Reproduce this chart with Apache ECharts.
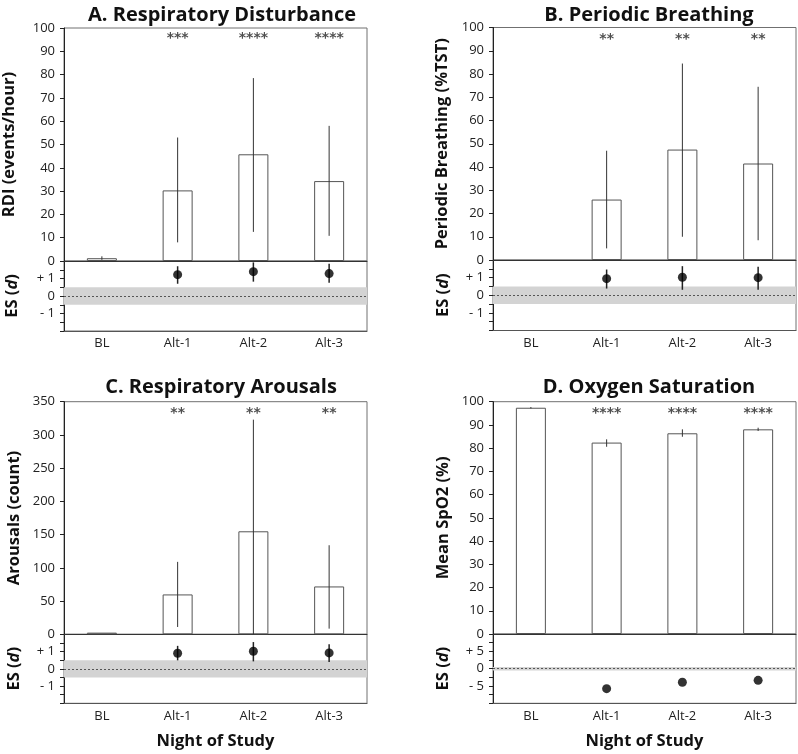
<!DOCTYPE html>
<html>
<head>
<meta charset="utf-8">
<script src="https://cdn.jsdelivr.net/npm/echarts@6/dist/echarts.min.js"></script>
<style>
html,body{margin:0;padding:0;background:#fff;}
#chart{width:798px;height:754px;}
</style>
</head>
<body>
<div id="chart"></div>
<script>
// ---- data ----
const categories = ['BL', 'Alt-1', 'Alt-2', 'Alt-3'];

// A. Respiratory Disturbance
const rdiMean   = [1.2, 30.3, 45.8, 34.3];
const rdiLow    = [0.5, 8, 12.5, 10.8];
const rdiHigh   = [2.0, 53, 78.5, 58];
const rdiES     = [null, 1.22, 1.39, 1.28];
const rdiESLow  = [null, 0.70, 0.82, 0.76];
const rdiESHigh = [null, 1.70, 1.92, 1.85];
const rdiStars  = ['', '***', '****', '****'];

// B. Periodic Breathing
const pbMean   = [null, 26, 47.5, 41.5];
const pbLow    = [null, 5, 10, 8.5];
const pbHigh   = [null, 47, 84.5, 74.5];
const pbES     = [null, 0.94, 1.02, 1.00];
const pbESLow  = [null, 0.38, 0.31, 0.31];
const pbESHigh = [null, 1.46, 1.65, 1.62];
const pbStars  = ['', '**', '**', '**'];

// C. Respiratory Arousals
const arMean   = [2.5, 60, 155, 72];
const arLow    = [null, 11, 0, 8.5];
const arHigh   = [null, 109, 323, 134];
const arES     = [null, 0.90, 1.02, 0.92];
const arESLow  = [null, 0.49, 0.43, 0.39];
const arESHigh = [null, 1.33, 1.55, 1.43];
const arStars  = ['', '**', '**', '**'];

// D. Oxygen Saturation
const spMean  = [97.4, 82.4, 86.4, 88.1];
const spLow   = [97.1, 80.6, 84.9, 87.4];
const spHigh  = [97.7, 83.8, 88.1, 88.8];
const spES    = [null, -5.77, -3.94, -3.37];
const spStars = ['', '****', '****', '****'];

// y-axis tick settings
const rdiTicks = {min: 0, max: 100, interval: 10};
const pbTicks  = {min: 0, max: 100, interval: 10};
const arTicks  = {min: 0, max: 350, interval: 50};
const spTicks  = {min: 0, max: 100, interval: 10};
const esTicksSmall = {min: -2, max: 2, interval: 0.5, labels: {'1': '+ 1', '0': '0', '-1': '- 1'}};
const esTicksLarge = {min: -10, max: 10, interval: 2.5, labels: {'5': '+ 5', '0': '0', '-5': '- 5'}};

// ---- layout / styles ----
const FONT = 'Open Sans';
const panels = [
  {title: 'A. Respiratory Disturbance', yName: 'RDI (events/hour)', mean: rdiMean, low: rdiLow, high: rdiHigh,
   es: rdiES, esLow: rdiESLow, esHigh: rdiESHigh, stars: rdiStars, starY: 95.5, ticks: rdiTicks, esTicks: esTicksSmall,
   left: 64, top: 28, h1: 233, h2: 70, nameGap: 46, esGap: 43, titleX: 217, titleTop: 0, xName: false},
  {title: 'B. Periodic Breathing', yName: 'Periodic Breathing (%TST)', mean: pbMean, low: pbLow, high: pbHigh,
   es: pbES, esLow: pbESLow, esHigh: pbESHigh, stars: pbStars, starY: 95, ticks: pbTicks, esTicks: esTicksSmall,
   left: 493, top: 27.5, h1: 232.5, h2: 70.5, nameGap: 42, esGap: 41, titleX: 644, titleTop: 0, xName: false},
  {title: 'C. Respiratory Arousals', yName: 'Arousals (count)', mean: arMean, low: arLow, high: arHigh,
   es: arES, esLow: arESLow, esHigh: arESHigh, stars: arStars, starY: 333, ticks: arTicks, esTicks: esTicksSmall,
   left: 64, top: 401.7, h1: 232.6, h2: 69, nameGap: 41.5, esGap: 41.5, titleX: 216, titleTop: 372, xName: true},
  {title: 'D. Oxygen Saturation', yName: 'Mean SpO2 (%)', mean: spMean, low: spLow, high: spHigh,
   es: spES, esLow: null, esHigh: null, stars: spStars, starY: 95, ticks: spTicks, esTicks: esTicksLarge,
   left: 493, top: 401.7, h1: 232.3, h2: 69.3, nameGap: 41, esGap: 41, titleX: 644, titleTop: 372, xName: true}
];
const PW = 303;

function errRender(width, color) {
  return function (params, api) {
    const x = api.value(0), lo = api.value(1), hi = api.value(2);
    const p1 = api.coord([x, lo]);
    const p2 = api.coord([x, hi]);
    return {type: 'line', shape: {x1: p1[0], y1: p1[1], x2: p2[0], y2: p2[1]},
            style: {stroke: color, lineWidth: width}};
  };
}

const option = {
  animation: false,
  backgroundColor: '#fff',
  textStyle: {fontFamily: FONT},
  title: [], grid: [], xAxis: [], yAxis: [], series: []
};

panels.forEach((p, k) => {
  const gU = 2 * k, gL = 2 * k + 1;
  option.title.push({
    text: p.title, left: p.titleX, top: p.titleTop, textAlign: 'center',
    textStyle: {fontFamily: FONT, fontSize: 20, fontWeight: 'bold', color: '#111'}
  });
  option.grid.push({left: p.left, top: p.top, width: PW, height: p.h1, show: true,
    borderColor: '#707070', borderWidth: 1, backgroundColor: 'transparent'});
  option.grid.push({left: p.left, top: p.top + p.h1, width: PW, height: p.h2, show: true,
    borderColor: '#707070', borderWidth: 1, backgroundColor: 'transparent'});

  option.xAxis.push({type: 'category', gridIndex: gU, data: categories,
    axisLine: {show: true, onZero: false, lineStyle: {color: '#333', width: 1}},
    axisTick: {show: false}, axisLabel: {show: false}, splitLine: {show: false}});
  const xl = {type: 'category', gridIndex: gL, data: categories,
    axisLine: {show: true, onZero: false, lineStyle: {color: '#555', width: 1}},
    axisTick: {show: false},
    axisLabel: {show: true, fontFamily: FONT, fontSize: 13, color: '#222', margin: 6},
    splitLine: {show: false}};
  if (p.xName) {
    xl.name = 'Night of Study'; xl.nameLocation = 'middle'; xl.nameGap = 29;
    xl.nameTextStyle = {fontFamily: FONT, fontSize: 16.5, fontWeight: 'bold', color: '#111'};
  }
  option.xAxis.push(xl);

  option.yAxis.push({type: 'value', gridIndex: gU, min: p.ticks.min, max: p.ticks.max, interval: p.ticks.interval,
    name: p.yName, nameLocation: 'middle', nameGap: p.nameGap,
    nameTextStyle: {fontFamily: FONT, fontSize: 16.5, fontWeight: 'bold', color: '#111'},
    axisLine: {show: true, lineStyle: {color: '#222', width: 1}},
    axisTick: {show: true, inside: false, length: 4, lineStyle: {color: '#222'}},
    axisLabel: {fontFamily: FONT, fontSize: 13, color: '#222', margin: 9},
    splitLine: {show: false}});
  const lab = p.esTicks.labels;
  option.yAxis.push({type: 'value', gridIndex: gL, min: p.esTicks.min, max: p.esTicks.max, interval: p.esTicks.interval,
    name: '{a|ES (}{b|d}{a|)}', nameLocation: 'middle', nameGap: p.esGap,
    nameTextStyle: {rich: {
      a: {fontFamily: FONT, fontSize: 16.5, fontWeight: 'bold', color: '#111'},
      b: {fontFamily: FONT, fontSize: 16.5, fontWeight: 'bold', fontStyle: 'italic', color: '#111'}}},
    axisLine: {show: true, lineStyle: {color: '#222', width: 1}},
    axisTick: {show: true, inside: false, length: 4, lineStyle: {color: '#222'}},
    axisLabel: {fontFamily: FONT, fontSize: 13, color: '#222', margin: 9,
      formatter: v => { const key = String(Math.round(v * 100) / 100); return lab[key] !== undefined ? lab[key] : ''; }},
    splitLine: {show: false}});

  // bars
  option.series.push({type: 'bar', xAxisIndex: gU, yAxisIndex: gU, data: p.mean, barWidth: 30,
    itemStyle: {color: '#fff', borderColor: '#555', borderWidth: 1}, z: 2});
  // error bars (upper)
  option.series.push({type: 'custom', xAxisIndex: gU, yAxisIndex: gU, z: 3,
    data: categories.map((c, i) => [i, p.low[i], p.high[i]]).filter(d => d[1] != null),
    renderItem: errRender(1, '#333')});
  // stars
  option.series.push({type: 'scatter', xAxisIndex: gU, yAxisIndex: gU, symbolSize: 0, z: 4,
    data: categories.map((c, i) => [i, p.starY, p.stars[i]]).filter(d => d[2] !== ''),
    label: {show: true, position: 'inside', formatter: d => d.data[2],
      fontFamily: 'DejaVu Sans', fontSize: 14, color: '#222', fontWeight: 'bold'}});
  // ES dots with band and zero line
  option.series.push({type: 'scatter', xAxisIndex: gL, yAxisIndex: gL, symbol: 'circle', symbolSize: 9, z: 5,
    data: categories.map((c, i) => [i, p.es[i]]).filter(d => d[1] != null),
    itemStyle: {color: '#000'},
    markArea: {silent: true, itemStyle: {color: '#d3d3d3'}, data: [[{yAxis: -0.5}, {yAxis: 0.5}]]},
    markLine: {silent: true, symbol: 'none', label: {show: false},
      lineStyle: {color: '#555', type: [2, 2], width: 1}, data: [{yAxis: 0}]}});
  if (p.esLow) {
    option.series.push({type: 'custom', xAxisIndex: gL, yAxisIndex: gL, z: 4,
      data: categories.map((c, i) => [i, p.esLow[i], p.esHigh[i]]).filter(d => d[1] != null),
      renderItem: errRender(1.5, '#222')});
  }
});

const chart = echarts.init(document.getElementById('chart'), null, {renderer: 'canvas'});
chart.setOption(option);
</script>
</body>
</html>
